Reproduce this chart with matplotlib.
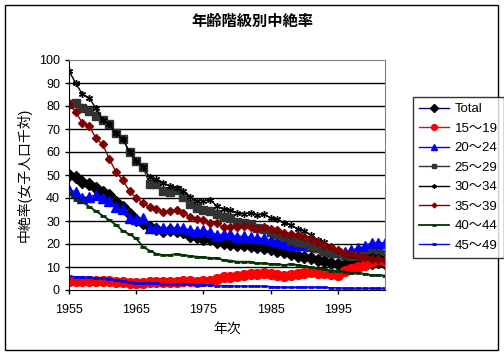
import matplotlib
matplotlib.use("Agg")
import matplotlib.pyplot as plt
from matplotlib.patches import Rectangle
import numpy as np

plt.rcParams['font.family'] = ['Liberation Sans', 'Noto Sans CJK JP']

# Years and abortion rates per 1000 women
years = np.arange(1955, 2003)

total = [50.2, 49.0, 46.8, 45.9, 44.2, 42.5, 41.3, 38.4, 36.0, 32.9,
         30.5, 29.3, 27.2, 26.4, 25.8, 26.0, 25.5, 25.2, 23.5, 22.9,
         22.3, 22.0, 21.0, 20.3, 20.0, 19.6, 19.6, 19.1, 18.8, 18.4,
         17.7, 17.0, 16.4, 15.7, 14.8, 14.3, 13.8, 13.0, 12.5, 11.9,
         11.3, 11.3, 11.3, 11.6, 11.9, 11.9, 12.1, 11.8]
age15_19 = [4.0, 4.1, 3.9, 4.0, 3.8, 3.9, 3.7, 3.5, 3.3, 3.2,
            3.1, 3.0, 3.3, 3.5, 3.4, 3.6, 3.5, 3.7, 3.8, 3.6,
            3.9, 4.0, 4.6, 5.5, 5.8, 6.1, 6.5, 7.0, 7.0, 7.2,
            7.0, 6.5, 6.1, 6.5, 7.0, 7.5, 8.0, 7.5, 7.2, 7.0,
            6.5, 8.4, 9.0, 9.9, 10.9, 12.3, 13.3, 12.8]
age20_24 = [43.5, 42.8, 40.1, 40.6, 41.3, 40.1, 38.7, 36.2, 35.2, 31.4,
            31.0, 31.2, 26.8, 27.1, 27.0, 27.0, 27.1, 27.0, 26.1, 25.8,
            26.0, 25.4, 23.9, 24.3, 24.3, 23.2, 23.5, 22.9, 22.5, 22.5,
            21.7, 21.5, 20.3, 19.6, 19.4, 19.6, 19.1, 18.8, 18.1, 17.4,
            16.7, 16.7, 17.4, 18.1, 19.1, 20.6, 20.6, 20.5]
age25_29 = [80.7, 81.2, 79.0, 77.8, 75.8, 73.9, 72.0, 68.1, 65.7, 59.9,
            56.1, 53.3, 46.1, 46.1, 43.2, 42.8, 43.5, 40.6, 37.4, 35.5,
            34.8, 34.3, 33.0, 31.9, 31.2, 29.7, 29.3, 28.7, 26.8, 26.4,
            25.4, 24.3, 22.9, 21.7, 21.0, 20.3, 19.1, 18.1, 17.1, 16.2,
            15.9, 15.2, 14.8, 14.8, 14.8, 15.9, 15.9, 15.5]
age30_34 = [95.2, 89.9, 85.1, 83.6, 79.0, 73.9, 72.0, 68.1, 65.7, 60.0,
            56.2, 53.6, 49.0, 48.1, 46.7, 45.2, 44.2, 43.2, 40.6, 38.8,
            38.8, 39.1, 36.5, 35.1, 34.8, 33.6, 33.0, 33.6, 32.6, 33.0,
            31.2, 30.7, 29.3, 28.3, 26.4, 25.8, 23.9, 21.7, 21.0, 18.8,
            17.4, 16.2, 15.2, 14.8, 14.2, 14.8, 14.5, 14.0]
age35_39 = [80.7, 77.5, 72.5, 71.4, 66.0, 63.3, 57.0, 51.2, 47.8, 43.0,
            40.0, 37.7, 36.0, 35.1, 34.1, 34.5, 34.8, 33.6, 31.6, 30.7,
            30.4, 29.3, 29.0, 27.3, 27.3, 27.3, 27.8, 27.3, 26.4, 27.3,
            26.4, 26.1, 24.9, 24.3, 23.9, 22.9, 22.0, 21.0, 19.6, 18.6,
            17.4, 16.2, 15.7, 14.8, 14.2, 13.3, 13.3, 13.0]
age40_44 = [42.5, 39.1, 38.4, 36.2, 34.3, 32.3, 30.4, 28.3, 25.7, 24.2,
            22.4, 18.8, 17.1, 15.7, 15.2, 15.2, 15.7, 15.2, 14.8, 14.5,
            14.2, 14.0, 13.8, 13.0, 12.8, 12.3, 12.3, 12.3, 11.6, 11.6,
            11.3, 11.3, 10.8, 11.3, 10.9, 10.4, 9.9, 9.4, 9.0, 8.4,
            8.4, 8.0, 7.5, 7.5, 7.0, 6.5, 6.5, 6.3]
age45_49 = [6.0, 5.8, 5.6, 5.5, 5.3, 5.1, 4.8, 4.4, 4.0, 3.6,
            3.2, 3.0, 2.9, 2.9, 2.8, 2.7, 2.6, 2.5, 2.4, 2.3,
            2.2, 2.0, 1.9, 1.8, 1.8, 1.7, 1.7, 1.7, 1.6, 1.6,
            1.5, 1.3, 1.2, 1.2, 1.2, 1.2, 1.2, 1.2, 1.1, 1.0,
            0.9, 0.8, 0.7, 0.7, 0.7, 0.7, 0.7, 0.7]

labels = ["Total", "15～19", "20～24", "25～29", "30～34", "35～39", "40～44", "45～49"]
xticks = [1955, 1965, 1975, 1985, 1995]

fig = plt.figure(figsize=(5.04, 3.55), dpi=100)
ax = fig.add_axes([69 / 504, 1 - 290 / 355, (385 - 69) / 504, (290 - 60) / 355])

ax.plot(years, total, color='#000080', lw=1, marker='D', ms=6.5, mfc='black', mec='black', label=labels[0])
ax.plot(years, age15_19, color='red', lw=1, marker='o', ms=7, mfc='red', mec='red', label=labels[1])
ax.plot(years, age20_24, color='blue', lw=1, marker='^', ms=7, mfc='blue', mec='blue', label=labels[2])
ax.plot(years, age25_29, color='#333333', lw=1, marker='s', ms=6, mfc='#333333', mec='#333333', label=labels[3])
ax.plot(years, age30_34, color='black', lw=1, marker=(6, 2, 0), ms=5, mec='black', mew=1, label=labels[4])
ax.plot(years, age35_39, color='#800000', lw=1, marker='D', ms=4, mfc='#800000', mec='#800000', label=labels[5])
ax.plot(years, age40_44, color='#003300', lw=1.3, marker='_', ms=5, mew=2, mec='#003300', label=labels[6])
ax.plot(years, age45_49, color='blue', lw=1, marker='_', ms=5, mew=2, mec='blue', label=labels[7])

ax.set_xlim(1955, 2002)
ax.set_ylim(0, 100)
ax.set_yticks(range(0, 101, 10))
ax.set_xticks(xticks)
ax.set_xticklabels([str(y) for y in xticks])
ax.tick_params(axis='both', labelsize=9, length=3, direction='out', width=1)
ax.tick_params(axis='x', pad=7)
for yv in range(10, 100, 10):
    ax.axhline(yv, color='black', lw=1, zorder=0)
for s in ['top', 'right']:
    ax.spines[s].set_color('#808080')
for s in ['left', 'bottom']:
    ax.spines[s].set_color('black')

ax.set_xlabel("年次", fontsize=10)
ax.xaxis.set_label_coords(0.5, -0.14)
ax.set_ylabel("中絶率(女子人口千対)", fontsize=10)
ax.yaxis.set_label_coords(-0.119, 0.5)

fig.text(252 / 504, 1 - 22 / 355, "年齢階級別中絶率", ha='center', va='center',
         fontsize=11, fontweight='bold')

leg = fig.legend(loc='upper left', bbox_to_anchor=(413 / 504, 1 - 97 / 355),
                 fontsize=9.5, frameon=True, fancybox=False, edgecolor='black',
                 handlelength=2.3, labelspacing=0.55, markerscale=0.6,
                 borderaxespad=0, borderpad=0.45, handletextpad=0.4)
leg.get_frame().set_linewidth(1)

fig.patches.append(Rectangle((5 / 504, 1 - 350 / 355), 493 / 504, 345 / 355,
                             transform=fig.transFigure, fill=False,
                             edgecolor='black', lw=1))

fig.savefig("out.png", dpi=100)
